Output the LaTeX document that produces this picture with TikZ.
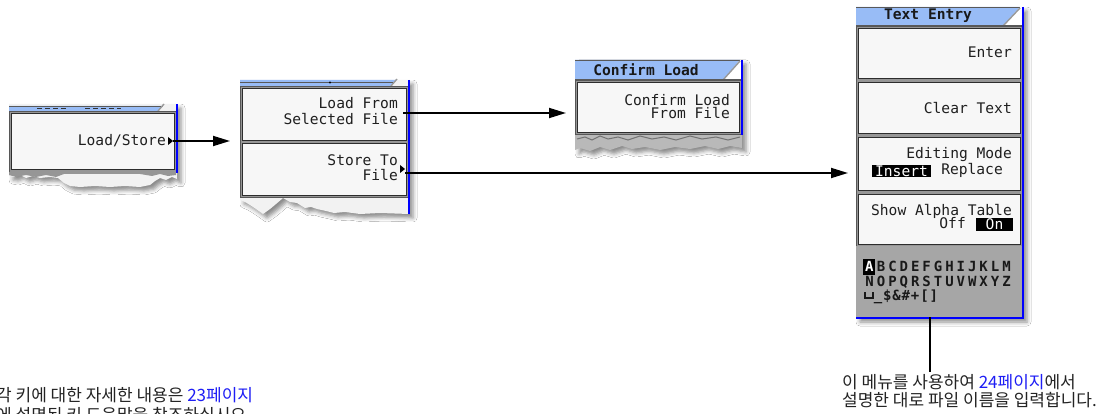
\documentclass[tikz,border=0pt]{standalone}
\usepackage{fontspec}
\setmainfont{DejaVu Sans}
\newfontfamily\kofont{Noto Sans CJK KR}
\newfontfamily\lcdfont{DejaVu Sans Mono}
\newfontfamily\lcdbold{DejaVu Sans Mono Bold}
\usetikzlibrary{arrows.meta,shadows.blur}

\definecolor{hdrblue}{RGB}{152,188,246}
\definecolor{edgeblue}{RGB}{0,0,255}
\definecolor{keyface}{RGB}{247,247,247}
\definecolor{keyedge}{RGB}{45,45,45}
\definecolor{panelgray}{RGB}{150,150,150}
\definecolor{tablegray}{RGB}{166,166,166}
\definecolor{tornface}{RGB}{242,242,242}
\definecolor{linkblue}{RGB}{30,30,245}
\definecolor{notetext}{RGB}{35,35,35}

\tikzset{
  panelbase/.style={fill=tornface, blur shadow={shadow xshift=4pt, shadow yshift=-4pt, shadow blur radius=4pt, shadow opacity=45}},
  keyframe/.style={rectangle, inner sep=0pt, fill=panelgray, draw=keyedge!80, line width=0.6pt, anchor=north west},
  keybtn/.style={rectangle, inner sep=0pt, fill=keyface, draw=keyedge, line width=1.2pt, anchor=north west},
  keytext/.style={font=\lcdfont\fontsize{14.6}{15}\selectfont, text=black!88, inner sep=0pt, anchor=east},
  titletext/.style={font=\lcdbold\fontsize{14.6}{15}\selectfont, text=black!90, inner sep=0pt},
  invbox/.style={rectangle, fill=black, text=white, inner sep=0pt, font=\lcdfont\fontsize{14.6}{15}\selectfont},
  alphachar/.style={font=\lcdbold\fontsize{14}{14}\selectfont, text=black!90, inner sep=0pt, text height=10pt, text depth=0pt},
  blueedge/.style={draw=edgeblue, line width=2.5pt},
  slash/.style={draw=gray!80, line width=1.4pt},
  hdrline/.style={draw=black!65, line width=0.9pt},
  flowarrow/.style={draw=black, line width=1.8pt, -{Triangle[length=17pt,width=10pt]}},
  stem/.style={draw=black, line width=2pt},
  notetext/.style={font=\kofont\fontsize{17}{18}\selectfont, text=notetext, inner sep=0pt, anchor=west}
}

\begin{document}
\begin{tikzpicture}[x=1pt,y=-1pt]
\useasboundingbox[fill=white] (0,0) rectangle (1106,414);

% ---------- Load/Store softkey (torn page fragment) ----------
\path[panelbase] (9,104) -- (177,104) -- (177,179) -- (172,177) -- (166,180) -- (160,178)
  -- (155,181) -- (150,185) -- (140,187) -- (125,186) -- (110,187) -- (95,186) -- (80,187)
  -- (70,186) -- (64,183) -- (58,178) -- (50,177) -- (40,178) -- (33,176) -- (26,178)
  -- (20,175) -- (14,177) -- (9,176) -- cycle;
\fill[hdrblue] (9,106) -- (163,106) -- (158,111) -- (9,111) -- cycle;
\draw[hdrline] (9,106) -- (163,106);
\draw[slash] (158,111) -- (164,104);
\draw[black!80, line width=1.6pt, dash pattern=on 5pt off 3pt] (37,108.5) -- (67,108.5) (85,108.5) -- (121,108.5);
\node[keyframe, minimum width=167pt, minimum height=61pt] (ls-frame) at (9,111) {};
\node[keybtn, minimum width=163pt, minimum height=56pt] (ls-key) at (11,113) {};
\fill[panelgray] (9,172) -- (176,172) -- (176,175) -- (168,176) -- (160,174) -- (152,176)
  -- (140,174) -- (100,174) -- (64,174) -- (56,177) -- (46,175) -- (36,177) -- (26,175)
  -- (16,177) -- (9,175) -- cycle;
\draw[blueedge] (177,104) -- (177,173);
\node[keytext] (ls-label) at (166,141) {Load/Store};
\coordinate (ls-ptr) at (173,141);
\fill[black] (168,137) -- (ls-ptr) -- (168,145) -- cycle;

% ---------- Load/Store menu ----------
\path[panelbase] (240,80) -- (409,80) -- (409,214) -- (380,213) -- (360,214) -- (345,212)
  -- (334,213) -- (326,211) -- (317,209) -- (311,207) -- (305,208) -- (297,203) -- (290,202)
  -- (283,198) -- (276,204) -- (270,209) -- (263,214) -- (256,209) -- (250,205) -- (245,202)
  -- (240,200) -- cycle;
\fill[hdrblue] (240,80) -- (396,80) -- (391,86) -- (240,86) -- cycle;
\draw[hdrline] (240,82.5) -- (393,82.5);
\fill[black] (330,82.5) circle (1.2pt);
\draw[slash] (391,86) -- (397,79);
\node[keyframe, minimum width=168pt, minimum height=111pt] (ld-frame) at (240,86) {};
\node[keybtn, minimum width=164pt, minimum height=52pt] (ld-load) at (242,88) {};
\node[keybtn, minimum width=164pt, minimum height=52pt] (ld-store) at (242,143) {};
\draw[blueedge] (409,80) -- (409,214);
\node[keytext] (ld-load-a) at (398,103) {Load From};
\node[keytext] (ld-load-b) at (398,119) {Selected File};
\node[keytext] (ld-store-a) at (398,160) {Store To};
\node[keytext] (ld-store-b) at (398,175) {File};
\coordinate (ld-load-ptr) at (403,113);
\coordinate (ld-store-ptr) at (405,169);
\fill[black] (400,165) -- (ld-store-ptr) -- (400,173) -- cycle;

% ---------- Confirm Load menu ----------
\path[panelbase, fill=gray!55] (575,60) -- (742,60) -- (742,148) -- (730,146) -- (718,149)
  -- (705,146) -- (690,149) -- (675,147) -- (660,150) -- (645,147) -- (632,149) -- (622,146)
  -- (610,150) -- (600,147) -- (590,151) -- (580,148) -- (575,150) -- cycle;
\draw[black!55, line width=1pt] (577,139) -- (585,137) -- (592,140) -- (600,136) -- (608,139)
  -- (618,137) -- (628,140) -- (640,136) -- (652,139) -- (664,137) -- (676,140) -- (690,136)
  -- (702,139) -- (716,137) -- (728,140) -- (740,137);
\fill[hdrblue] (575,60) -- (740,60) -- (723,80) -- (575,80) -- cycle;
\fill[white] (740,60) -- (742,60) -- (742,80) -- (723,80) -- cycle;
\draw[hdrline] (575,60.5) -- (740,60.5);
\draw[slash] (723,80) -- (740,61);
\draw[hdrline] (575,79.5) -- (741,79.5);
\node[titletext] (cf-title) at (646,70) {Confirm Load};
\node[keyframe, minimum width=166pt, minimum height=54pt] (cf-frame) at (575,80) {};
\node[keybtn, minimum width=162pt, minimum height=50pt] (cf-key) at (577,82) {};
\draw[blueedge] (742,60) -- (742,135);
\node[keytext] (cf-key-a) at (730,100) {Confirm Load};
\node[keytext] (cf-key-b) at (730,113) {From File};

% ---------- Text Entry menu ----------
\path[panelbase, fill=panelgray] (856,7) rectangle (1023,318);
\fill[hdrblue] (856,7) -- (1020,7) -- (1003,26) -- (856,26) -- cycle;
\fill[white] (1020,7) -- (1023,7) -- (1023,26) -- (1003,26) -- cycle;
\draw[hdrline] (856,7.5) -- (1020,7.5);
\draw[slash] (1003,26) -- (1020,8);
\draw[hdrline] (856,25.5) -- (1022,25.5);
\node[titletext] (te-title) at (928,16) {Text Entry};
\node[keyframe, minimum width=166pt, minimum height=220pt] (te-frame) at (856,26) {};
\node[keybtn, minimum width=162pt, minimum height=50pt] (te-enter) at (858,28) {};
\node[keybtn, minimum width=162pt, minimum height=51pt] (te-clear) at (858,82) {};
\node[keybtn, minimum width=162pt, minimum height=53pt] (te-mode) at (858,137) {};
\node[keybtn, minimum width=162pt, minimum height=50pt] (te-alpha) at (858,194) {};
\node[rectangle, inner sep=0pt, fill=tablegray, anchor=north west, minimum width=166pt, minimum height=71pt] (te-table) at (856,246) {};
\draw[blueedge] (1023,7) -- (1023,318.5);
\draw[edgeblue, line width=2pt] (856,317.5) -- (1024,317.5);
\node[keytext] (te-enter-t) at (1012,52) {Enter};
\node[keytext] (te-clear-t) at (1012,108) {Clear Text};
\node[keytext] (te-mode-t) at (1012,155) {Editing Mode};
\node[invbox, minimum width=59pt, minimum height=12pt] (te-insert) at (901.5,171) {Insert};
\node[keytext] (te-replace) at (1003,170) {Replace};
\node[keytext] (te-alpha-t) at (1012,211) {Show Alpha Table};
\node[keytext] (te-off) at (966,223) {Off};
\node[invbox, minimum width=37pt, minimum height=13pt] (te-on) at (994.5,224.5) {On};
% alpha table: cursor on the first letter
\node[rectangle, fill=black, minimum width=12pt, minimum height=16pt, inner sep=0pt] (row1-1) at (869.4,267) {};
\node[alphachar, text=white] (row1-cur) at (row1-1) {A};
\foreach \c [count=\i from 2] in {B,C,D,E,F,G,H,I,J,K,L,M}
  \node[alphachar] (row1-\i) at ({858.3+11.4*\i},267) {\c};
\foreach \c [count=\i] in {N,O,P,Q,R,S,T,U,V,W,X,Y,Z}
  \node[alphachar] (row2-\i) at ({858.3+11.4*\i},282) {\c};
\draw[black!90, line width=1.8pt] (865,292) -- (865,298) -- (873,298) -- (873,292);
\foreach \c [count=\i] in {\_,\$,\&,\#,+,[,]}
  \node[alphachar] (row3-\i) at ({868.7+9.3*\i},296) {\c};

% ---------- connectors ----------
\draw[flowarrow, shorten >=10pt] (ls-ptr) -- (ls-ptr -| ld-frame.west);
\draw[flowarrow, shorten >=9pt] (ld-load-ptr) -- (ld-load-ptr -| cf-frame.west);
\draw[flowarrow, shorten >=8pt] (ld-store-ptr |- 0,173) -- (te-frame.west |- 0,173);

% ---------- notes ----------
\coordinate (stem-foot) at (930,372);
\draw[stem] (te-table.south -| stem-foot) -- (stem-foot);
\node[notetext] (note-r1) at (842,382) {이 메뉴를 사용하여 {\color{linkblue}24페이지}에서};
\node[notetext] (note-r2) at (842,400) {설명한 대로 파일 이름을 입력합니다.};
\node[notetext] (note-l1) at (-4,395) {각 키에 대한 자세한 내용은 {\color{linkblue}23페이지}};
\node[notetext] (note-l2) at (-4,415) {에 설명된 키 도움말을 참조하십시오.};
\end{tikzpicture}
\end{document}
